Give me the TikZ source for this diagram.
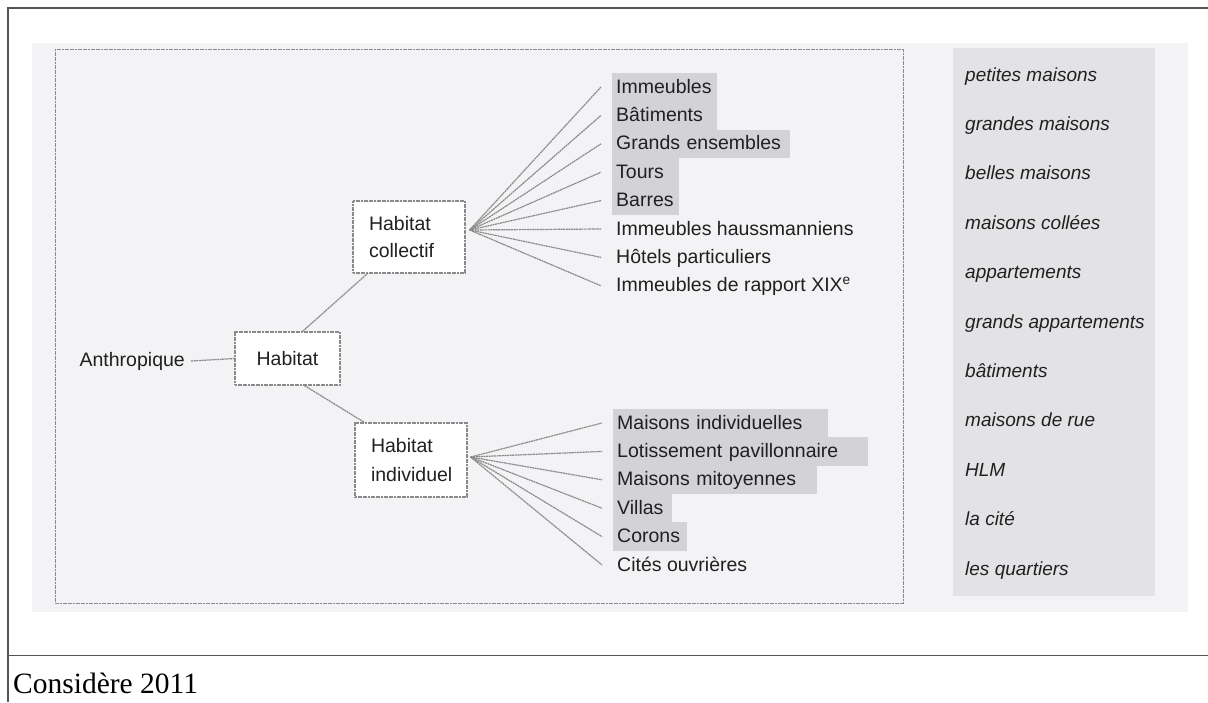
\documentclass[tikz,border=0pt]{standalone}
\usepackage{fontspec}
\setmainfont{Liberation Sans}
\newfontfamily\capfont{Liberation Serif}
\usetikzlibrary{calc}
\definecolor{scanbg}{HTML}{F3F3F5}
\definecolor{panel}{HTML}{E3E3E6}
\definecolor{hl}{HTML}{D3D3D7}
\definecolor{ln}{HTML}{8A8A8A}
\definecolor{frm}{HTML}{555555}
\definecolor{ink}{HTML}{202020}
\begin{document}
\begin{tikzpicture}[x=1pt,y=-1pt,
  conn/.style={draw=ln, line width=1.2pt, dash pattern=on 2pt off 0.6pt},
  box/.style={draw=ln, line width=1.2pt, dash pattern=on 2pt off 0.6pt, fill=white, text=ink, font=\fontsize{19.5}{27}\selectfont},
  item/.style={anchor=west, inner xsep=4pt, inner ysep=0pt, minimum height=28.4pt, text height=15pt, text depth=3pt, text=ink, font=\fontsize{19.5}{23}\selectfont},
  hlitem/.style={item, fill=hl, align=left, text width=#1},
  word/.style={anchor=west, inner xsep=4pt, text height=14pt, text depth=4pt, text=ink, font=\fontsize{19}{23}\selectfont\itshape}
]
\useasboundingbox (0,0) rectangle (1208,702);
% scanned background and panels
\fill[scanbg] (32,43) rectangle (1188,612);
\fill[panel] (953,48) rectangle (1155,596);
\draw[ln, line width=1pt, dash pattern=on 2pt off 0.6pt] (55,49) rectangle (903,603);
% outer frame
\draw[frm, line width=1.5pt] (1208,8) -- (8,8) -- (8,702);
\draw[frm, line width=1.5pt] (8,655.5) -- (1208,655.5);
\node[anchor=base west, inner sep=0pt, text=black, font=\capfont\fontsize{29.5}{34}\selectfont] (cap) at (13,693) {Considère 2011};

% tree nodes
\node[anchor=east, inner xsep=6pt, text=ink, font=\fontsize{19.5}{23}\selectfont] (anthro) at (191,361) {Anthropique};
\node[box, minimum width=105pt, minimum height=53pt] (habitat) at (287.5,358.5) {Habitat};
\node[box, align=left, text width=80pt, inner xsep=16pt, minimum height=72pt] (collectif) at (409,237) {Habitat\\collectif};
\node[box, align=left, text width=80pt, inner xsep=16pt, minimum height=74pt, font=\fontsize{19.5}{29}\selectfont] (individuel) at (411,460) {Habitat\\individuel};

% collective items
\node[hlitem=97pt] (c1) at (612,87) {Immeubles};
\node[hlitem=97pt] (c2) at (612,115.4) {Bâtiments};
\node[hlitem=170pt] (c3) at (612,143.8) {Grands ensembles};
\node[hlitem=59pt] (c4) at (612,172.2) {Tours};
\node[hlitem=59pt] (c5) at (612,200.6) {Barres};
\node[item] (c6) at (612,229) {Immeubles haussmanniens};
\node[item] (c7) at (612,257.4) {Hôtels particuliers};
\node[item] (c8) at (612,285.8) {Immeubles de rapport XIX\textsuperscript{e}};

% individual items
\node[hlitem=207pt] (i1) at (613,423) {Maisons individuelles};
\node[hlitem=247pt] (i2) at (613,451.4) {Lotissement pavillonnaire};
\node[hlitem=196pt] (i3) at (613,479.8) {Maisons mitoyennes};
\node[hlitem=51pt] (i4) at (613,508.2) {Villas};
\node[hlitem=66pt] (i5) at (613,536.6) {Corons};
\node[item] (i6) at (613,565) {Cités ouvrières};

% right column
\node[word] (w1) at (961,76) {petites maisons};
\node[word] (w2) at (961,125.4) {grandes maisons};
\node[word] (w3) at (961,174.8) {belles maisons};
\node[word] (w4) at (961,224.2) {maisons collées};
\node[word] (w5) at (961,273.6) {appartements};
\node[word] (w6) at (961,323) {grands appartements};
\node[word] (w7) at (961,372.4) {bâtiments};
\node[word] (w8) at (961,421.8) {maisons de rue};
\node[word] (w9) at (961,471.2) {HLM};
\node[word] (w10) at (961,520.6) {la cité};
\node[word] (w11) at (961,570) {les quartiers};

% connectors
\draw[conn] (anthro.east) -- (habitat.west);
\draw[conn] ($(habitat.north)+(15,0)$) -- ($(collectif.south west)+(15,0)$);
\draw[conn] ($(habitat.south)+(17,0)$) -- ($(individuel.north west)+(10,0)$);
\coordinate (cfan) at ($(collectif.east)+(4,-7)$);
\coordinate (ifan) at ($(individuel.east)+(3,-3)$);
\foreach \n in {c1,c2,c3,c4,c5,c6,c7,c8}
  \draw[conn] (cfan) -- ($(\n.west)+(-11,0)$);
\foreach \n in {i1,i2,i3,i4,i5,i6}
  \draw[conn] (ifan) -- ($(\n.west)+(-11,0)$);
\end{tikzpicture}
\end{document}
